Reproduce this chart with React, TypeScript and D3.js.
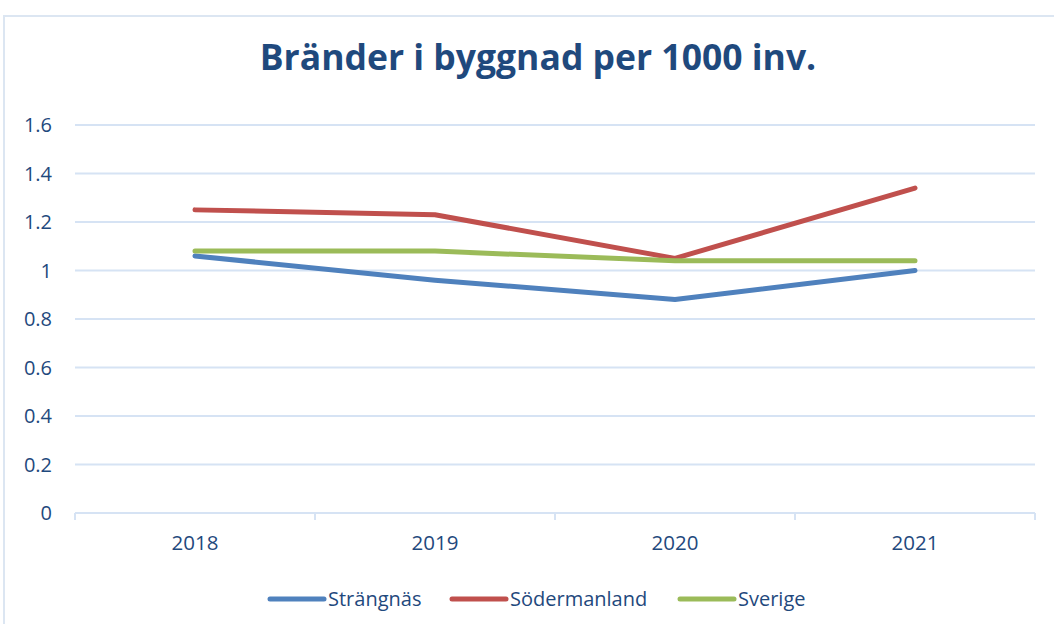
import * as d3 from "d3";

const years = ["2018", "2019", "2020", "2021"];
const strangnas = [1.06, 0.96, 0.88, 1.0];
const sodermanland = [1.25, 1.23, 1.05, 1.34];
const sverige = [1.08, 1.08, 1.04, 1.04];
const yTicks = [0, 0.2, 0.4, 0.6, 0.8, 1, 1.2, 1.4, 1.6];

const series = [
  { name: "Strängnäs", values: strangnas, color: "#4f81bd" },
  { name: "Södermanland", values: sodermanland, color: "#c0504d" },
  { name: "Sverige", values: sverige, color: "#9bbb59" },
];

const W = 1054;
const H = 624;
const textColor = "#1f497d";
const gridColor = "#d6e3f4";
const font = "'Open Sans', sans-serif";

export default function App() {
  const x = d3.scaleBand().domain(years).range([75, 1035]);
  const y = d3.scaleLinear().domain([0, 1.6]).range([513, 125]);
  const line = d3
    .line<number>()
    .x((_, i) => (x(years[i]) as number) + x.bandwidth() / 2)
    .y((d) => y(d));

  const legendPos = [270, 452, 680];

  return (
    <div style={{ position: "fixed", left: 0, top: 0 }}>
      <svg width={W} height={H} style={{ display: "block", background: "#fff" }}>
        <rect x={4} y={16} width={1100} height={700} fill="none" stroke="#dce6f2" strokeWidth={2} />
        <text x={538} y={70} textAnchor="middle" fill={textColor} fontFamily={font} fontWeight="bold" fontSize={35.5}>
          Bränder i byggnad per 1000 inv.
        </text>
        {yTicks.map((t) => (
          <g key={t}>
            <line x1={75} x2={1035} y1={y(t)} y2={y(t)} stroke={gridColor} strokeWidth={2} />
            <text x={52} y={y(t)} dy="0.35em" textAnchor="end" fill={textColor} fontFamily={font} fontSize={20}>
              {t}
            </text>
          </g>
        ))}
        {d3.range(years.length + 1).map((i) => {
          const xx = 75 + i * x.bandwidth();
          return <line key={i} x1={xx} x2={xx} y1={513} y2={520} stroke={gridColor} strokeWidth={2} />;
        })}
        {years.map((yr) => (
          <text key={yr} x={(x(yr) as number) + x.bandwidth() / 2} y={550} textAnchor="middle" fill={textColor} fontFamily={font} fontSize={20.5}>
            {yr}
          </text>
        ))}
        {series.map((s) => (
          <path key={s.name} d={line(s.values) as string} fill="none" stroke={s.color} strokeWidth={5} strokeLinecap="round" strokeLinejoin="round" />
        ))}
        {series.map((s, i) => (
          <g key={s.name}>
            <line x1={legendPos[i]} x2={legendPos[i] + 54} y1={599} y2={599} stroke={s.color} strokeWidth={5} strokeLinecap="round" />
            <text x={legendPos[i] + 58} y={599} dy="0.35em" fill={textColor} fontFamily={font} fontSize={20}>
              {s.name}
            </text>
          </g>
        ))}
      </svg>
    </div>
  );
}
